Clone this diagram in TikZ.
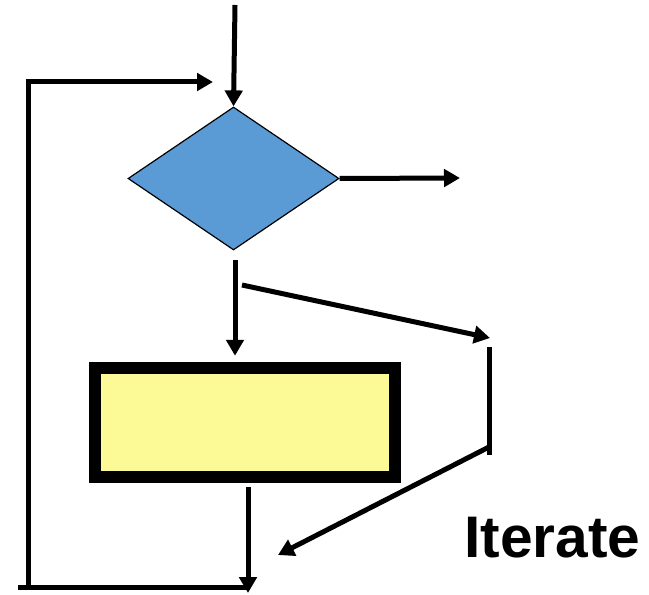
\documentclass[tikz,border=0pt]{standalone}
\usepackage{fontspec}
\setmainfont{Liberation Sans}
\usetikzlibrary{arrows.meta,shapes.geometric}

\definecolor{decblue}{RGB}{91,155,213}
\definecolor{bodyyellow}{RGB}{252,250,150}

\tikzset{
  flow/.style={line width=3.75pt},
  flowarrow/.style={flow,-{Triangle[length=12pt,width=13pt]}}
}

\begin{document}
\begin{tikzpicture}[x=0.75pt,y=0.75pt,yscale=-1,xscale=1]
        \useasboundingbox (0,0) rectangle (649,595);

        %Shape: Diamond [id:test]
        \node [diamond, draw, fill=decblue, line width=0.9pt, inner sep=0pt,
               minimum width=211*0.75pt, minimum height=143*0.75pt] (test) at (233.5,178.5) {};
        %Shape: Rectangle [id:body]
        \node [rectangle, draw, fill=bodyyellow, line width=9pt, inner sep=0pt,
               minimum width=300*0.75pt, minimum height=109.5*0.75pt] (body) at (244.5,422.5) {};

        % free ends of the connectors
        \coordinate (in) at (235,5);
        \coordinate (out) at (460,178);
        \coordinate (split) at (235,260);
        \coordinate (skip) at (242,285);
        \coordinate (skipend) at (490,338);
        \coordinate (bar1) at (489,347);
        \coordinate (bar2) at (489,455);
        \coordinate (back) at (489,447);
        \coordinate (backend) at (278,555);
        \coordinate (down) at (248,487);
        \coordinate (downend) at (248,593);
        \coordinate (loopL) at (18,587);
        \coordinate (loopR) at (248,587);
        \coordinate (loopB) at (28,589);
        \coordinate (loopend) at (213,82);

        %Straight Lines
        \draw [flowarrow] (in) -- (test.north);
        \draw [flowarrow] (test.east) -- (out);
        \draw [flowarrow, shorten >=4.5pt] (split) -- (split |- body.north);
        \draw [flowarrow] (skip) -- (skipend);
        \draw [flow] (bar1) -- (bar2);
        \draw [flowarrow] (back) -- (backend);
        \draw [flowarrow] (down) -- (downend);
        \draw [flow] (loopL) -- (loopR);
        \draw [flowarrow] (loopB) |- (loopend);

        % Text Node
        \node [anchor=base west, inner sep=0pt, font=\fontsize{44}{50}\selectfont\bfseries] (iter) at (464,557) {Iterate};

    \end{tikzpicture}
\end{document}
